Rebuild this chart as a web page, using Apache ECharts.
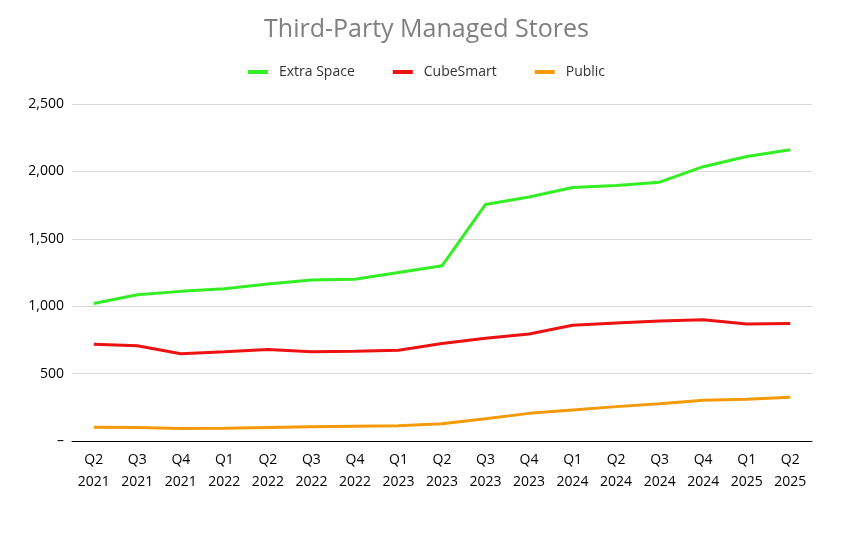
<!DOCTYPE html>
<html>
<head>
<meta charset="utf-8">
<script src="https://cdn.jsdelivr.net/npm/echarts@6/dist/echarts.min.js"></script>
<style>html,body{margin:0;padding:0;background:#fff}#main{width:853px;height:538px}</style>
</head>
<body>
<div id="main"></div>
<script>
// quarters shown on the x axis
var quarters = ['Q2\n2021','Q3\n2021','Q4\n2021','Q1\n2022','Q2\n2022','Q3\n2022','Q4\n2022','Q1\n2023','Q2\n2023',
  'Q3\n2023','Q4\n2023','Q1\n2024','Q2\n2024','Q3\n2024','Q4\n2024','Q1\n2025','Q2\n2025'];
var extraSpace = [1020,1085,1110,1130,1165,1195,1200,1250,1300,1755,1810,1880,1895,1920,2035,2110,2160];
var cubeSmart = [718,706,648,662,678,662,666,674,724,762,794,858,876,890,900,868,872];
var publicStorage = [102,100,92,95,100,105,110,114,128,165,205,230,255,277,302,310,325];

var chart = echarts.init(document.getElementById('main'));
var font = 'Open Sans, Liberation Sans, sans-serif';
function line(name, data, color) {
  return {name: name, type: 'line', data: data, symbol: 'none', smooth: false,
    lineStyle: {color: color, width: 3}, itemStyle: {color: color}};
}
var option = {
  animation: false,
  title: {text: 'Third-Party Managed Stores', left: 'center', top: 12,
    textStyle: {fontFamily: font, fontSize: 25, fontWeight: 'normal', color: '#7f7f7f'}},
  legend: {top: 60, itemWidth: 20, itemHeight: 4, itemGap: 38, icon: 'rect',
    textStyle: {fontFamily: font, fontSize: 14, color: '#333', padding: [0, 0, 0, 6]},
    data: ['Extra Space', 'CubeSmart', 'Public']},
  grid: {left: 72, right: 41, top: 104, bottom: 97},
  xAxis: {type: 'category', data: quarters, boundaryGap: true,
    axisLine: {lineStyle: {color: '#000'}}, axisTick: {show: false},
    axisLabel: {fontFamily: font, fontSize: 14, color: '#000', lineHeight: 22, margin: 8}},
  yAxis: {type: 'value', min: 0, max: 2500, interval: 500,
    axisLine: {show: false}, axisTick: {show: false},
    splitLine: {lineStyle: {color: '#d9d9d9'}},
    axisLabel: {fontFamily: font, fontSize: 14, color: '#000', margin: 8,
      formatter: function (v) { return v === 0 ? '–' : v.toLocaleString('en-US'); }}},
  series: [
    line('Extra Space', extraSpace, '#33ee22'),
    line('CubeSmart', cubeSmart, '#ee1111'),
    line('Public', publicStorage, '#f59a0a')
  ]
};
chart.setOption(option);
</script>
</body>
</html>
